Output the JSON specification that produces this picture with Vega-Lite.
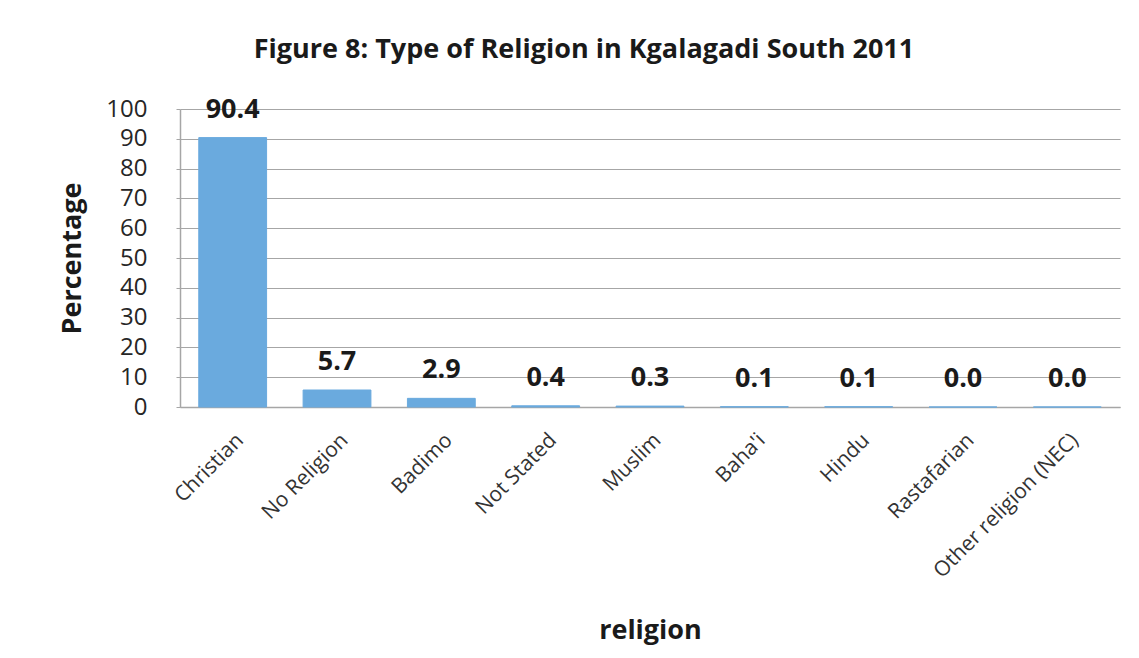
{
  "$schema": "https://vega.github.io/schema/vega-lite/v6.json",
  "width": 940,
  "height": 298,
  "autosize": {"type": "none"},
  "padding": {"left": 180, "top": 109, "right": 19, "bottom": 251},
  "background": "white",
  "title": {
    "text": "Figure 8: Type of Religion in Kgalagadi South 2011",
    "font": "Open Sans",
    "fontSize": 27,
    "fontWeight": "bold",
    "color": "#1a1a1a",
    "anchor": "middle",
    "dx": -66,
    "offset": 32
  },
  "data": {
    "values": [
      {"religion": "Christian", "percentage": 90.4},
      {"religion": "No Religion", "percentage": 5.7},
      {"religion": "Badimo", "percentage": 2.9},
      {"religion": "Not Stated", "percentage": 0.4},
      {"religion": "Muslim", "percentage": 0.3},
      {"religion": "Baha'i", "percentage": 0.1},
      {"religion": "Hindu", "percentage": 0.1},
      {"religion": "Rastafarian", "percentage": 0.0},
      {"religion": "Other religion (NEC)", "percentage": 0.0}
    ]
  },
  "encoding": {
    "x": {
      "field": "religion",
      "type": "nominal",
      "sort": null,
      "scale": {"paddingInner": 0.35, "paddingOuter": 0.18},
      "axis": {
        "title": "religion",
        "titleFont": "Open Sans",
        "titleFontSize": 27,
        "titleFontWeight": "bold",
        "titleColor": "#1a1a1a",
        "titlePadding": 36,
        "labelAngle": -45,
        "labelFont": "Open Sans",
        "labelFontSize": 21,
        "labelColor": "#333333",
        "labelPadding": 22,
        "labelLimit": 500,
        "ticks": false,
        "domainColor": "#a6a6a6",
        "domainWidth": 1.5
      }
    },
    "y": {
      "field": "percentage",
      "type": "quantitative",
      "scale": {"domain": [0, 100], "nice": false},
      "axis": {
        "title": "Percentage",
        "titleFont": "Open Sans",
        "titleFontSize": 27,
        "titleFontWeight": "bold",
        "titleColor": "#1a1a1a",
        "titlePadding": 19,
        "values": [0, 10, 20, 30, 40, 50, 60, 70, 80, 90, 100],
        "labelFont": "Open Sans",
        "labelFontSize": 24,
        "labelColor": "#262626",
        "labelPadding": 29,
        "tickSize": 4,
        "tickColor": "#a6a6a6",
        "gridColor": "#a6a6a6",
        "gridWidth": 1.2,
        "domainColor": "#a6a6a6",
        "domainWidth": 1.5
      }
    }
  },
  "layer": [
    {
      "mark": {"type": "bar", "color": "#6aaade", "stroke": "#6aaade", "strokeWidth": 1}
    },
    {
      "mark": {
        "type": "text",
        "font": "Open Sans",
        "fontSize": 27,
        "fontWeight": "bold",
        "color": "#1a1a1a",
        "baseline": "alphabetic",
        "dy": -20
      },
      "encoding": {
        "text": {"field": "percentage", "type": "quantitative", "format": ".1f"}
      }
    }
  ],
  "config": {
    "view": {"stroke": null}
  }
}
